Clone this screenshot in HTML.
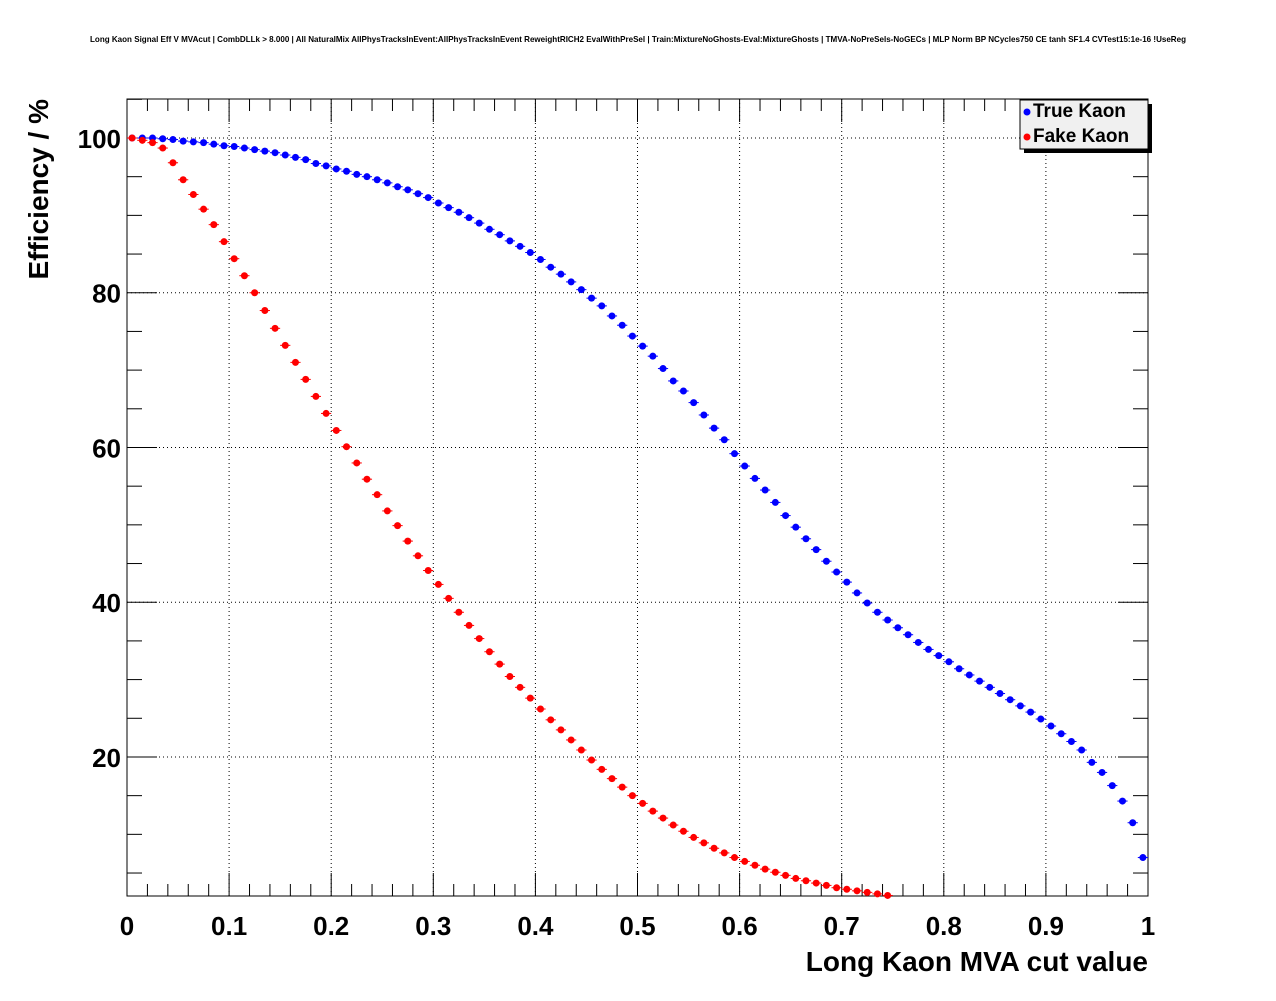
<!DOCTYPE html>
<html><head><meta charset="utf-8"><style>
body{margin:0;background:#fff;}
svg text{font-family:"Liberation Sans",Arial,sans-serif;}
</style></head><body>
<svg id="c" width="1276" height="996" xmlns="http://www.w3.org/2000/svg">
<rect width="1276" height="996" fill="#fff"/>
<text x="90" y="42" font-size="8.2" textLength="1096" lengthAdjust="spacingAndGlyphs" font-weight="bold">Long Kaon Signal Eff V MVAcut | CombDLLk &gt; 8.000 | All NaturalMix AllPhysTracksInEvent:AllPhysTracksInEvent ReweightRICH2 EvalWithPreSel | Train:MixtureNoGhosts-Eval:MixtureGhosts | TMVA-NoPreSels-NoGECs | MLP Norm BP NCycles750 CE tanh SF1.4 CVTest15:1e-16 !UseReg</text>
<g id="grid"></g>
<g id="axes"></g>
<g id="marks"></g>
<text x="1148" y="971" font-size="28" font-weight="bold" text-anchor="end">Long Kaon MVA cut value</text>
<text transform="translate(48,99) rotate(-90)" font-size="28" font-weight="bold" text-anchor="end">Efficiency / %</text>
<g>
<rect x="1024" y="104" width="128" height="49" fill="#000"/>
<rect x="1020" y="100" width="128" height="49" fill="#f0f0f0" stroke="#000" stroke-width="1"/>
<circle cx="1027" cy="112" r="3.5" fill="#0000ff"/>
<text x="1033" y="117" font-size="19" font-weight="bold">True Kaon</text>
<circle cx="1027" cy="137" r="3.5" fill="#ff0000"/>
<text x="1033" y="142" font-size="19" font-weight="bold">Fake Kaon</text>
</g>
</svg>
<script>
const xTicks=[0,0.1,0.2,0.3,0.4,0.5,0.6,0.7,0.8,0.9,1];
const xTickLabels=["0","0.1","0.2","0.3","0.4","0.5","0.6","0.7","0.8","0.9","1"];
const yTicks=[20,40,60,80,100];
const yTickLabels=["20","40","60","80","100"];
const trueKaon=[100,100,100,99.9,99.8,99.6,99.5,99.4,99.2,99.0,98.9,98.7,98.5,98.3,98.1,97.8,97.5,97.2,96.7,96.4,96.0,95.7,95.3,95.0,94.6,94.2,93.7,93.3,92.8,92.3,91.6,91.0,90.4,89.7,89.0,88.2,87.5,86.7,86.0,85.2,84.3,83.3,82.4,81.4,80.4,79.3,78.3,77.0,75.8,74.4,73.1,71.8,70.2,68.6,67.3,65.8,64.2,62.5,61.0,59.2,57.6,56.0,54.5,52.9,51.2,49.7,48.2,46.8,45.3,43.9,42.6,41.2,39.9,38.7,37.7,36.7,35.8,34.8,33.9,33.1,32.3,31.4,30.6,29.8,29.0,28.2,27.4,26.6,25.8,24.9,24.0,23.0,22.0,20.9,19.3,18.0,16.3,14.3,11.5,7.0];
const fakeKaon=[100,99.7,99.4,98.7,96.8,94.6,92.7,90.8,88.8,86.6,84.4,82.2,80.0,77.7,75.4,73.2,71.0,68.8,66.6,64.4,62.2,60.1,58.0,55.9,53.9,51.8,49.9,47.9,46.0,44.1,42.3,40.5,38.7,37.0,35.3,33.6,32.0,30.4,29.0,27.6,26.2,24.8,23.5,22.2,20.9,19.6,18.4,17.2,16.1,15.0,14.0,13.0,12.1,11.2,10.4,9.6,8.9,8.2,7.6,7.0,6.5,6.0,5.5,5.1,4.7,4.3,4.0,3.7,3.4,3.1,2.9,2.7,2.5,2.3,2.1];
const X0=127,X1=1148,Y0=99,Y1=896,YMIN=2.03,YMAX=105.04;
const sx=v=>X0+(X1-X0)*v;
const sy=v=>Y1-(Y1-Y0)*(v-YMIN)/(YMAX-YMIN);
const NS="http://www.w3.org/2000/svg";
function mk(tag,attrs,parent){const e=document.createElementNS(NS,tag);for(const k in attrs)e.setAttribute(k,attrs[k]);parent.appendChild(e);return e;}
const grid=document.getElementById('grid'),axes=document.getElementById('axes'),marks=document.getElementById('marks');
xTicks.forEach(v=>{if(v>0&&v<1){const l=mk('line',{x1:sx(v),x2:sx(v),y1:Y0,y2:Y1,stroke:'#000','stroke-width':1,'stroke-dasharray':'1,3'},grid);

}});
yTicks.forEach(v=>{const l=mk('line',{x1:X0,x2:X1,y1:sy(v),y2:sy(v),stroke:'#000','stroke-width':1,'stroke-dasharray':'1,3'},grid);

});
const fr=mk('rect',{x:X0,y:Y0,width:X1-X0,height:Y1-Y0,fill:'none',stroke:'#000','stroke-width':1},axes);


for(let i=0;i<=50;i++){const v=i/50,len=(i%5==0)?23:12;
mk('line',{x1:sx(v),x2:sx(v),y1:Y1,y2:Y1-len,stroke:'#000'},axes);
mk('line',{x1:sx(v),x2:sx(v),y1:Y0,y2:Y0+len,stroke:'#000'},axes);}
for(let v=5;v<=105;v+=5){const len=(v%20==0)?30:15;
mk('line',{x1:X0,x2:X0+len,y1:sy(v),y2:sy(v),stroke:'#000'},axes);
mk('line',{x1:X1,x2:X1-len,y1:sy(v),y2:sy(v),stroke:'#000'},axes);}
xTicks.forEach((v,i)=>{const t=mk('text',{x:sx(v),y:935,'font-size':26,'font-weight':'bold','text-anchor':'middle'},axes);t.textContent=xTickLabels[i];

});
yTicks.forEach((v,i)=>{const t=mk('text',{x:121,y:sy(v)+10,'font-size':26,'font-weight':'bold','text-anchor':'end'},axes);t.textContent=yTickLabels[i];

});
function series(arr,col,name){arr.forEach((v,i)=>{const x=(i+0.5)/100;
mk('line',{x1:sx(x-0.005),x2:sx(x+0.005),y1:sy(v),y2:sy(v),stroke:col,'stroke-width':1},marks);
const c=mk('circle',{cx:sx(x),cy:sy(v),r:3.5,fill:col},marks);

});}
series(trueKaon,'#0000ff','true-kaon-point');
series(fakeKaon,'#ff0000','fake-kaon-point');
</script>
</body></html>
